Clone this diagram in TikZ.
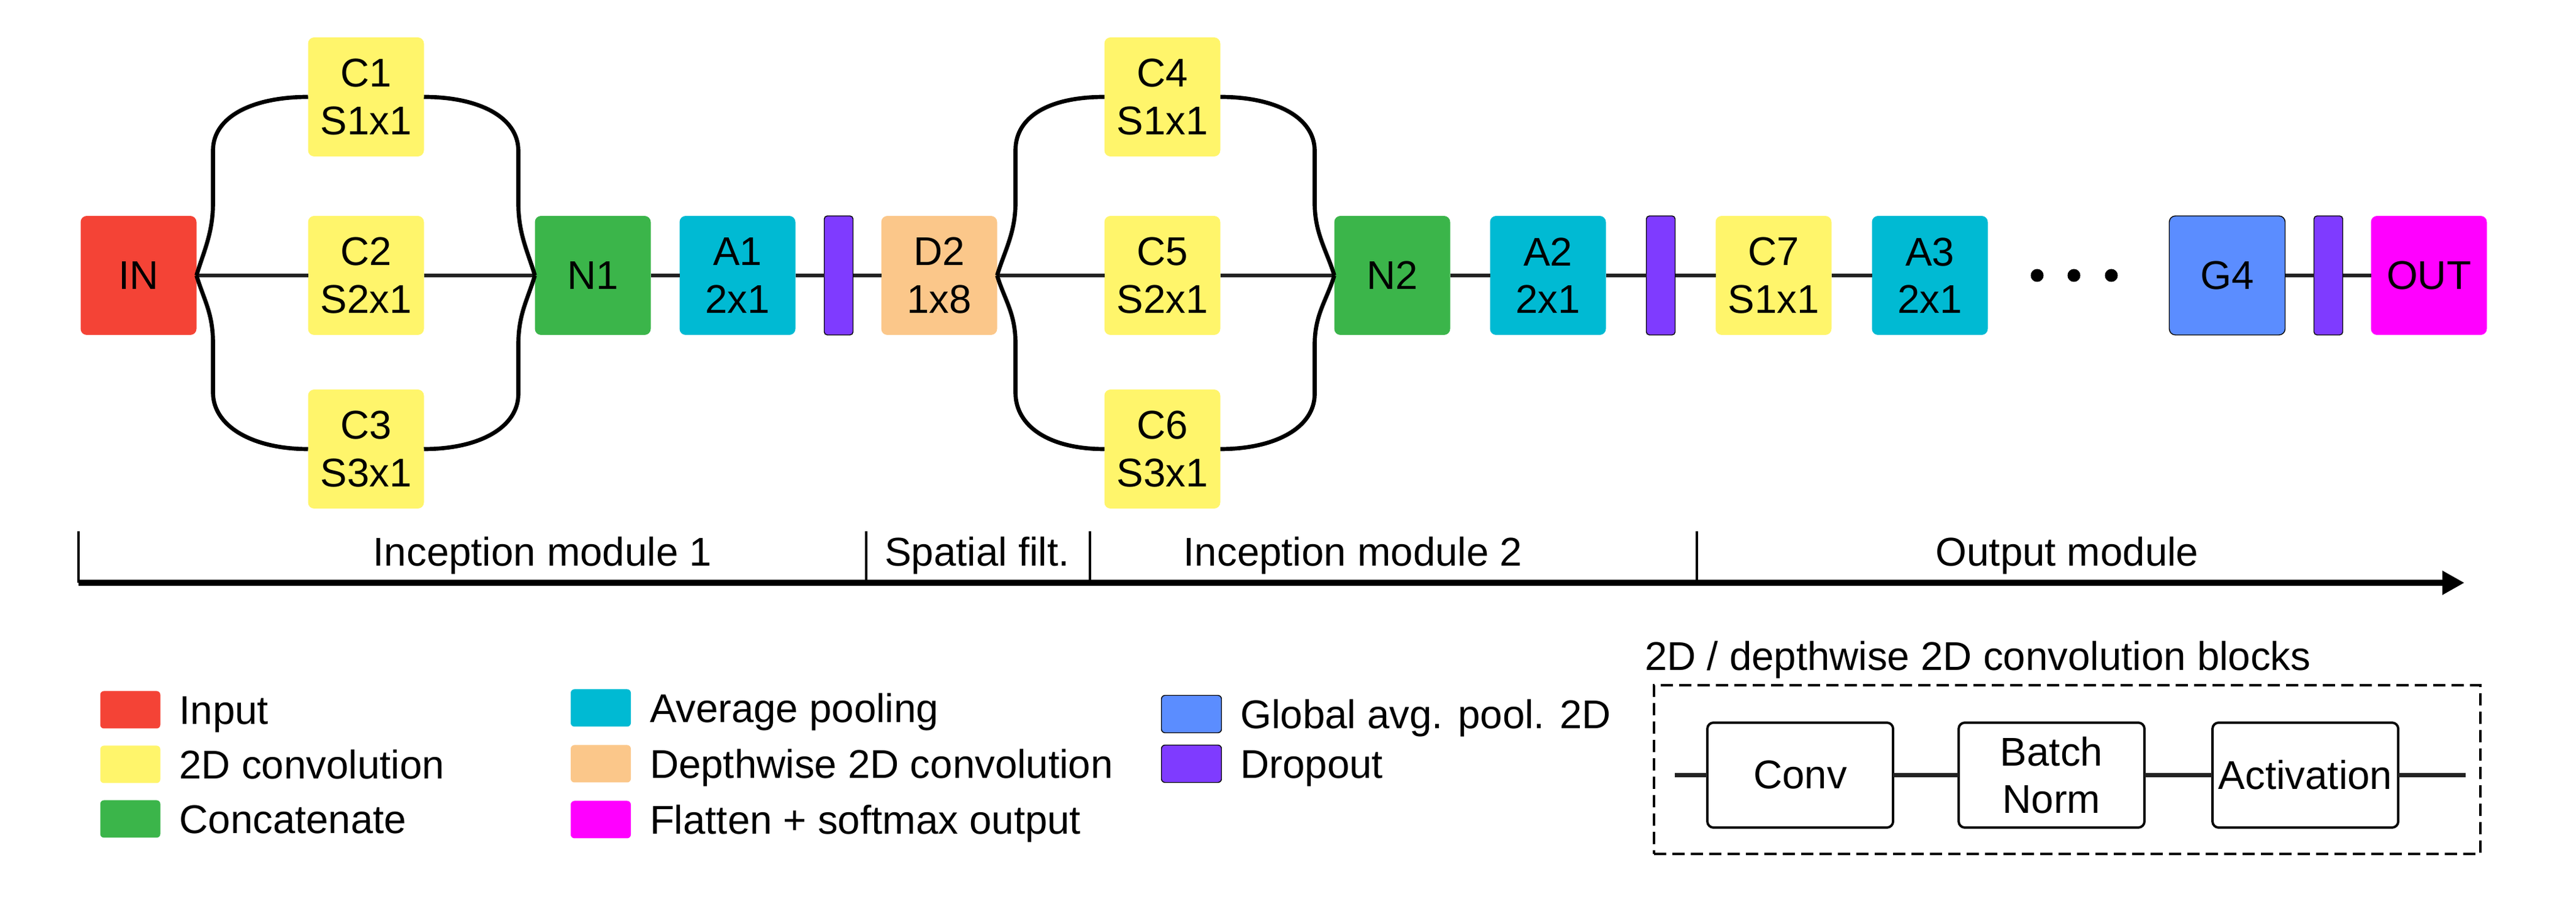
\documentclass[tikz,border=0pt]{standalone}
\usepackage{fontspec}
\setmainfont{Liberation Sans}
\usetikzlibrary{positioning, arrows.meta}

\definecolor{inred}{HTML}{F44336}
\definecolor{convyellow}{HTML}{FFF56B}
\definecolor{catgreen}{HTML}{3BB54A}
\definecolor{poolcyan}{HTML}{00BAD3}
\definecolor{dwconvorange}{HTML}{FBC78A}
\definecolor{outmagenta}{HTML}{FF00FF}
\definecolor{gapblue}{HTML}{5B8DFF}
\definecolor{droppurple}{HTML}{7F3BFF}
\definecolor{linegray}{HTML}{222222}

\begin{document}
\begin{tikzpicture}[
    every node/.style={font=\fontsize{18.6}{22}\selectfont, inner sep=0pt, outer sep=0pt},
    unit/.style={rectangle, rounded corners=1mm, minimum width=18.9mm, minimum height=19.4mm, align=center},
    dropout/.style={rectangle, rounded corners=0.5mm, draw=black, line width=0.4pt, fill=droppurple, minimum width=4.7mm, minimum height=19.4mm},
    more/.style={circle, fill=black, minimum size=2.1mm},
    link/.style={draw=linegray, line width=1.9pt},
    brace/.style={draw=black, line width=1.9pt},
    timeline/.style={line width=2.6pt, -{Triangle[length=3.6mm, width=3.7mm]}},
    stagetick/.style={line width=1pt},
    stage/.style={anchor=base},
    swatch/.style={rectangle, rounded corners=0.6mm, minimum width=9.8mm, minimum height=6.1mm},
    legend/.style={text height=13.3pt, text depth=0pt},
    block/.style={rectangle, draw, line width=1.1pt, rounded corners=1mm, minimum width=30.3mm, minimum height=17.1mm, align=center},
    blockframe/.style={rectangle, draw, line width=1.1pt, dash pattern=on 2mm off 1mm}
]

\useasboundingbox (0,0) rectangle (42.02,-14.85);

% Inception module 1
\node[unit, fill=inred] (in) at (2.26,-4.49) {IN};
\node[unit, fill=convyellow, right=18.2mm of in] (c2) {C2\\S2x1};
\node[unit, fill=convyellow, above=9.7mm of c2] (c1) {C1\\S1x1};
\node[unit, fill=convyellow, below=8.9mm of c2] (c3) {C3\\S3x1};
\node[unit, fill=catgreen, right=18.1mm of c2] (n1) {N1};
\node[unit, fill=poolcyan, right=4.7mm of n1] (a1) {A1\\2x1};
\node[dropout, right=4.7mm of a1] (drop1) {};

% Spatial filter
\node[unit, fill=dwconvorange, right=4.6mm of drop1] (d2) {D2\\1x8};

% Inception module 2
\node[unit, fill=convyellow, right=17.5mm of d2] (c5) {C5\\S2x1};
\node[unit, fill=convyellow, above=9.7mm of c5] (c4) {C4\\S1x1};
\node[unit, fill=convyellow, below=8.9mm of c5] (c6) {C6\\S3x1};
\node[unit, fill=catgreen, right=18.6mm of c5] (n2) {N2};
\node[unit, fill=poolcyan, right=6.5mm of n2] (a2) {A2\\2x1};
\node[dropout, right=6.6mm of a2] (drop2) {};

% Output module
\node[unit, fill=convyellow, right=6.6mm of drop2] (c7) {C7\\S1x1};
\node[unit, fill=poolcyan, right=6.6mm of c7] (a3) {A3\\2x1};
\node[more, right=7mm of a3] (more1) {};
\node[more, right=3.9mm of more1] (more2) {};
\node[more, right=4mm of more2] (more3) {};
\node[unit, fill=gapblue, draw=black, line width=0.4pt, right=8.4mm of more3] (g4) {G4};
\node[dropout, right=4.7mm of g4] (drop3) {};
\node[unit, fill=outmagenta, right=4.6mm of drop3] (out) {OUT};

% main edges
\draw[link] (in) -- (c2) -- (n1) -- (a1) -- (drop1) -- (d2) -- (c5) -- (n2) -- (a2) -- (drop2) -- (c7) -- (a3);
\draw[link] (g4) -- (drop3) -- (out);

% branch edges, module 1
\draw[brace] (in.east) .. controls +(0.12,0.4) and +(0,-0.5) .. ++(0.27,1.19) -- ++(0,0.85) .. controls +(0,0.55) and +(-0.9,0) .. (c1.west);
\draw[brace] (in.east) .. controls +(0.12,-0.4) and +(0,0.5) .. ++(0.27,-1.11) -- ++(0,-0.8) .. controls +(0,-0.55) and +(-0.9,0) .. (c3.west);
\draw[brace] (c1.east) .. controls +(0.9,0) and +(0,0.55) .. ++(1.54,-0.88) -- ++(0,-0.85) .. controls +(0,-0.5) and +(-0.12,0.4) .. (n1.west);
\draw[brace] (c3.east) .. controls +(0.9,0) and +(0,-0.55) .. ++(1.54,0.9) -- ++(0,0.8) .. controls +(0,0.5) and +(-0.12,-0.4) .. (n1.west);

% branch edges, module 2
\draw[brace] (d2.east) .. controls +(0.12,0.4) and +(0,-0.5) .. ++(0.3,1.19) -- ++(0,0.85) .. controls +(0,0.55) and +(-0.9,0) .. (c4.west);
\draw[brace] (d2.east) .. controls +(0.12,-0.4) and +(0,0.5) .. ++(0.3,-1.11) -- ++(0,-0.8) .. controls +(0,-0.55) and +(-0.9,0) .. (c6.west);
\draw[brace] (c4.east) .. controls +(0.9,0) and +(0,0.55) .. ++(1.54,-0.88) -- ++(0,-0.85) .. controls +(0,-0.5) and +(-0.12,0.4) .. (n2.west);
\draw[brace] (c6.east) .. controls +(0.9,0) and +(0,-0.55) .. ++(1.54,0.9) -- ++(0,0.8) .. controls +(0,0.5) and +(-0.12,-0.4) .. (n2.west);

% Timeline
\coordinate (tick0) at (1.28,-9.50);
\coordinate (tick1) at (14.13,-9.50);
\coordinate (tick2) at (17.78,-9.50);
\coordinate (tick3) at (27.68,-9.50);
\coordinate (timeline_end) at (40.20,-9.50);
\draw[timeline] (tick0) -- (timeline_end);
\draw[stagetick] (tick0) -- ++(0,0.84);
\draw[stagetick] (tick1) -- ++(0,0.84);
\draw[stagetick] (tick2) -- ++(0,0.84);
\draw[stagetick] (tick3) -- ++(0,0.84);
\node[stage] (stage1) at (8.85,-9.23) {Inception module 1};
\node[stage] (stage2) at (15.94,-9.23) {Spatial filt.};
\node[stage] (stage3) at (22.07,-9.23) {Inception module 2};
\node[stage] (stage4) at (33.72,-9.23) {Output module};

% Legend
\node[swatch, fill=inred] (sw_input) at (2.125,-11.57) {};
\node[legend, right=3.1mm of sw_input] (lg_input) {Input};
\node[swatch, fill=convyellow, below=2.8mm of sw_input] (sw_conv) {};
\node[legend, right=3.1mm of sw_conv] (lg_conv) {2D convolution};
\node[swatch, fill=catgreen, below=2.8mm of sw_conv] (sw_cat) {};
\node[legend, right=3.1mm of sw_cat] (lg_cat) {Concatenate};

\node[swatch, fill=poolcyan] (sw_pool) at (9.80,-11.54) {};
\node[legend, right=3.1mm of sw_pool] (lg_pool) {Average pooling};
\node[swatch, fill=dwconvorange, below=3mm of sw_pool] (sw_dwconv) {};
\node[legend, right=3.1mm of sw_dwconv] (lg_dwconv) {Depthwise 2D convolution};
\node[swatch, fill=outmagenta, below=3mm of sw_dwconv] (sw_out) {};
\node[legend, right=3.1mm of sw_out] (lg_out) {Flatten + softmax output};

\node[swatch, fill=gapblue, draw=black, line width=0.4pt] (sw_gap) at (19.435,-11.64) {};
\node[legend, right=3.1mm of sw_gap] (lg_gap) {Global avg. pool. 2D};
\node[swatch, fill=droppurple, draw=black, line width=0.4pt, below=2mm of sw_gap] (sw_drop) {};
\node[legend, right=3.1mm of sw_drop] (lg_drop) {Dropout};

% Convolution blocks
\node[anchor=base west] (blocks_title) at (26.83,-10.93) {2D / depthwise 2D convolution blocks};
\node[blockframe, minimum width=13.48cm, minimum height=2.75cm] (blocks_frame) at (33.72,-12.545) {};
\node[block] (conv_blk) at (29.365,-12.635) {Conv};
\node[block, right=10.7mm of conv_blk] (bn_blk) {Batch\\Norm};
\node[block, right=11.1mm of bn_blk] (act_blk) {Activation};
\coordinate[left=5.3mm of conv_blk] (blk_in);
\coordinate[right=11mm of act_blk] (blk_out);
\draw[link] (blk_in) -- (conv_blk) -- (bn_blk) -- (act_blk) -- (blk_out);

\end{tikzpicture}
\end{document}
